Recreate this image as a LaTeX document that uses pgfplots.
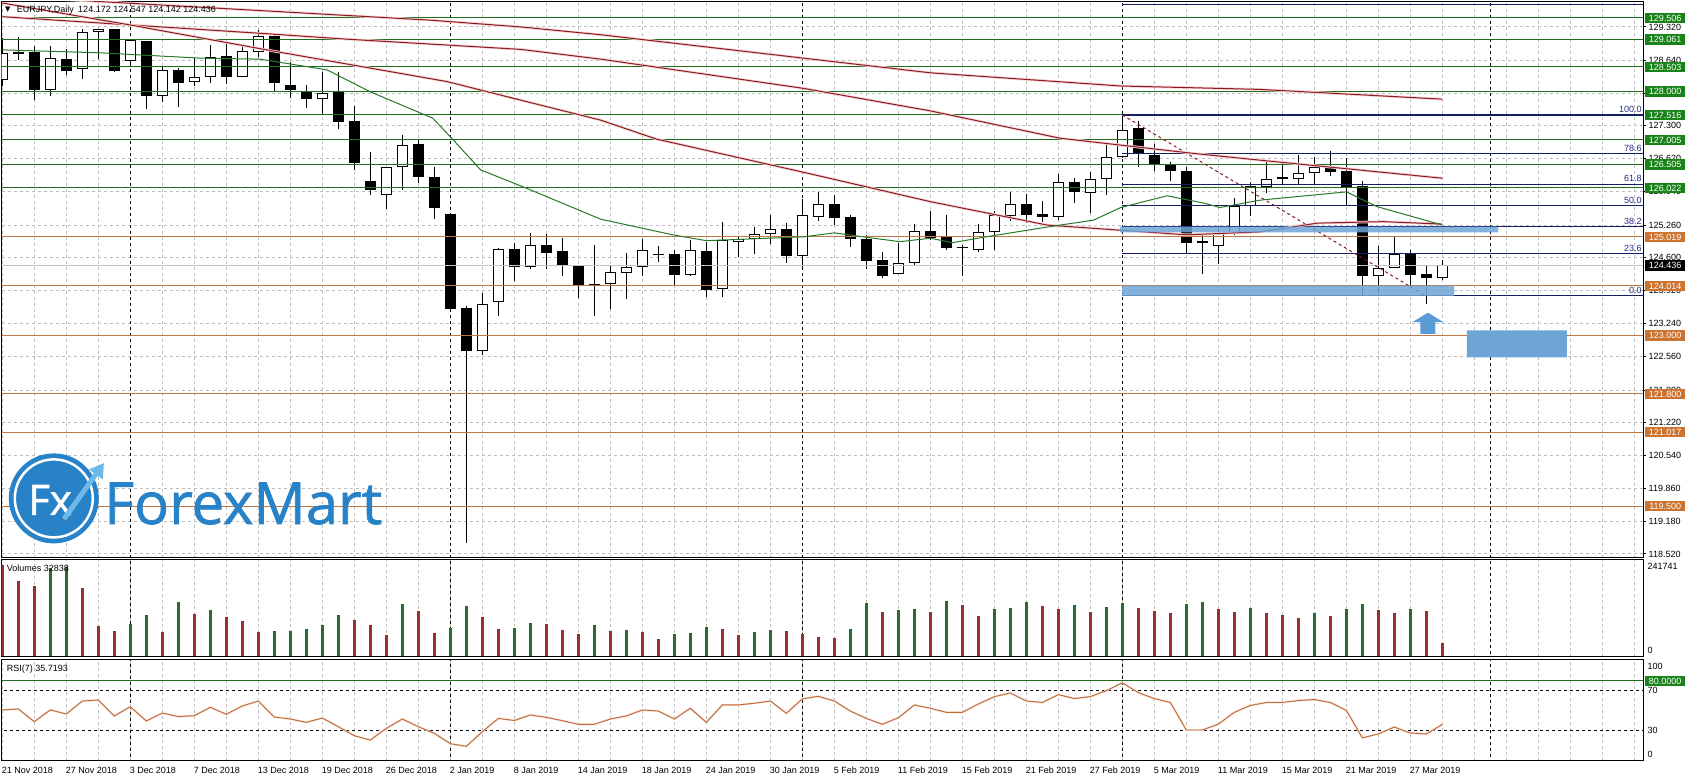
\documentclass[border=0pt]{standalone}
\usepackage{fontspec}
\setmainfont{Liberation Sans}
\newfontfamily\dejavu{DejaVu Sans}
\newfontfamily\logofont[FakeBold=1.2]{Open Sans}
\usepackage{pgfplots}
\usepackage{pgfplotstable}
\pgfplotsset{compat=1.18}
\usetikzlibrary{arrows.meta}

\definecolor{lvlgreen}{RGB}{30,110,30}
\definecolor{boxgreen}{RGB}{25,130,25}
\definecolor{lvlorange}{RGB}{190,120,70}
\definecolor{boxorange}{RGB}{205,115,50}
\definecolor{gridgray}{RGB}{190,190,190}
\definecolor{fibblue}{RGB}{20,30,100}
\definecolor{fibtext}{RGB}{40,40,140}
\definecolor{maRed}{RGB}{135,28,35}
\definecolor{maGlow}{RGB}{250,208,208}
\definecolor{maGreen}{RGB}{40,120,40}
\definecolor{bandblue}{RGB}{110,165,215}
\definecolor{arrowblue}{RGB}{90,155,213}
\definecolor{volgreen}{RGB}{40,110,40}
\definecolor{volred}{RGB}{155,45,45}
\definecolor{rsiline}{RGB}{195,105,55}
\definecolor{logoblue}{RGB}{40,130,200}
\definecolor{logolight}{RGB}{110,185,235}
\definecolor{bidgray}{RGB}{195,195,195}

\pgfplotstableread{
i O H L C
0 128.23 129.09 128.10 128.78
1 128.77 129.12 128.64 128.81
2 128.80 128.93 127.82 128.03
3 128.03 128.93 127.91 128.68
4 128.66 128.86 128.34 128.42
5 128.45 129.27 128.25 129.21
6 129.22 129.28 128.66 129.27
7 129.27 129.28 128.40 128.42
8 128.63 129.05 128.54 129.05
9 129.03 129.04 127.63 127.91
10 127.91 128.52 127.79 128.44
11 128.44 128.47 127.67 128.18
12 128.19 128.68 128.10 128.29
13 128.30 128.95 128.18 128.71
14 128.72 128.98 128.16 128.30
15 128.30 128.90 128.29 128.83
16 128.81 129.26 128.70 129.13
17 129.13 129.15 127.99 128.18
18 128.14 128.61 127.86 128.03
19 128.01 128.13 127.65 127.84
20 127.84 128.39 127.54 127.97
21 127.98 128.39 127.22 127.38
22 127.39 127.69 126.38 126.53
23 126.16 126.75 125.88 125.97
24 125.87 126.44 125.59 126.44
25 126.44 127.11 125.98 126.91
26 126.93 127.02 126.13 126.25
27 126.24 126.44 125.38 125.60
28 125.49 125.49 123.52 123.55
29 123.56 123.60 118.75 122.67
30 122.67 123.86 122.60 123.64
31 123.69 124.79 123.40 124.76
32 124.76 124.89 124.12 124.41
33 124.41 125.09 124.37 124.85
34 124.85 125.07 124.35 124.69
35 124.73 124.99 124.22 124.43
36 124.43 124.45 123.76 124.03
37 124.03 124.85 123.40 124.06
38 124.05 124.42 123.53 124.29
39 124.27 124.68 123.74 124.41
40 124.41 124.97 124.22 124.75
41 124.64 124.83 124.51 124.67
42 124.66 124.75 124.03 124.24
43 124.24 124.95 124.22 124.75
44 124.73 124.92 123.78 123.93
45 123.94 125.33 123.79 124.95
46 124.91 125.04 124.60 124.97
47 124.97 125.23 124.67 125.07
48 125.07 125.47 124.87 125.17
49 125.18 125.31 124.49 124.63
50 124.63 125.79 124.37 125.46
51 125.43 125.94 125.35 125.69
52 125.69 125.88 125.26 125.41
53 125.42 125.47 124.82 124.97
54 124.97 125.06 124.35 124.53
55 124.54 124.71 124.17 124.22
56 124.25 124.90 124.25 124.48
57 124.48 125.28 124.42 125.14
58 125.14 125.55 124.95 125.00
59 125.01 125.47 124.74 124.80
60 124.81 124.85 124.22 124.78
61 124.74 125.28 124.70 125.11
62 125.11 125.55 124.75 125.46
63 125.45 125.94 125.34 125.69
64 125.69 125.90 125.31 125.47
65 125.49 125.75 125.33 125.42
66 125.43 126.31 125.36 126.14
67 126.14 126.22 125.72 125.94
68 125.92 126.34 125.51 126.20
69 126.20 126.91 125.88 126.65
70 126.65 127.516 126.64 127.20
71 127.24 127.39 126.44 126.71
72 126.70 126.93 126.36 126.51
73 126.51 126.56 126.17 126.36
74 126.37 126.44 124.68 124.90
75 124.93 125.06 124.26 124.90
76 124.84 125.19 124.46 125.09
77 125.09 125.81 125.06 125.66
78 125.66 126.15 125.45 126.06
79 126.05 126.57 125.91 126.20
80 126.20 126.56 126.10 126.24
81 126.20 126.70 126.10 126.32
82 126.32 126.66 126.10 126.44
83 126.44 126.78 126.27 126.35
84 126.37 126.63 125.67 126.05
85 126.06 126.17 123.81 124.22
86 124.22 124.83 123.86 124.39
87 124.39 125.02 124.39 124.66
88 124.67 124.75 124.00 124.24
89 124.25 124.44 123.64 124.18
90 124.172 124.547 124.142 124.436
}\candles

\pgfplotstableread{
i v g
0 229 0
1 189 0
2 176 0
3 221 1
4 225 1
5 172 0
6 76 0
7 63 0
8 81 1
9 103 1
10 61 0
11 137 1
12 106 0
13 116 1
14 98 0
15 88 0
16 61 0
17 62 1
18 63 1
19 69 1
20 78 1
21 103 1
22 91 0
23 78 0
24 53 0
25 131 1
26 113 0
27 58 0
28 71 1
29 126 1
30 98 0
31 68 0
32 71 1
33 82 1
34 80 0
35 65 0
36 55 0
37 78 1
38 63 0
39 65 1
40 60 0
41 43 0
42 55 1
43 58 1
44 73 1
45 68 0
46 53 0
47 60 1
48 65 1
49 63 0
50 55 0
51 48 0
52 45 0
53 68 1
54 133 1
55 111 0
56 116 1
57 118 1
58 111 0
59 138 1
60 128 0
61 101 0
62 118 1
63 121 1
64 136 1
65 125 0
66 118 0
67 128 1
68 112 0
69 124 1
70 134 1
71 120 0
72 114 0
73 108 0
74 130 1
75 135 1
76 118 0
77 112 0
78 122 1
79 108 0
80 103 0
81 96 0
82 108 1
83 100 0
84 118 1
85 132 1
86 117 0
87 108 0
88 118 1
89 114 0
90 32.838 0
}\vol

\pgfplotstableread{
i r
0 50.4
1 51.4
2 38.5
3 50.4
4 46.3
5 59.5
6 60.5
7 44.3
8 53.7
9 39.2
10 47.3
11 43.6
12 44.6
13 53.1
14 46.0
15 54.4
16 59.5
17 43.2
18 41.2
19 37.8
20 42.2
21 33.4
22 24.2
23 19.8
24 31.7
25 41.2
26 33.4
27 26.6
28 16.1
29 13.4
30 28.3
31 41.8
32 39.7
33 45.3
34 42.9
35 39.5
36 35.8
37 35.8
38 41.2
39 44.3
40 50.4
41 49.3
42 41.2
43 52.1
44 37.8
45 55.5
46 55.5
47 57.2
48 59.5
49 47.0
50 61.6
51 64.3
52 59.5
53 49.3
54 41.8
55 35.8
56 42.5
57 55.5
58 52.1
59 48.0
60 48.0
61 56.5
62 63.9
63 67.7
64 59.5
65 58
66 66
67 62
68 64
69 70
70 78
71 68
72 62
73 58
74 30
75 30
76 36
77 48
78 55
79 58
80 58
81 60
82 61
83 58
84 50
85 22
86 26
87 33
88 27
89 26
90 35.72
}\rsi

\pgfplotsset{
  panel/.style={
    scale only axis, width=1641.5pt, xmin=-0.05, xmax=102.54,
    anchor=south west,
    axis line style={black, line width=1pt},
    clip mode=individual,
    xtick={0,2,...,102}, xticklabels={}, xmajorgrids,
    xtick style={draw=none},
    major grid style={gridgray, dash pattern=on 3pt off 3pt, line width=1pt},
    /pgf/number format/assume math mode=true,
    ticklabel style={font=\fontsize{9}{10}\selectfont},
  },
  sep/.style={black, dash pattern=on 3pt off 3pt, line width=1pt, forget plot},
}
\tikzset{
  lbl/.style={anchor=west, xshift=2pt, text=white, inner xsep=0pt, inner ysep=0pt,
    minimum width=40pt, minimum height=10.5pt, text height=6.5pt, text depth=0pt,
    font=\fontsize{9}{10}\selectfont},
  fiblbl/.style={anchor=south east, inner sep=0pt, text=fibtext, yshift=2pt,
    font=\fontsize{9}{10}\selectfont},
}

\begin{document}
\begin{tikzpicture}[x=1pt,y=1pt]
\useasboundingbox (0,0) rectangle (1689,781);
\fill[white] (0,0) rectangle (1689,781);

% ================= MAIN PANEL =================
\begin{axis}[panel, at={(1.5pt,223.3pt)}, height=556pt,
  ymin=118.4442, ymax=129.8376,
  ytick={118.52,119.18,119.86,120.54,121.22,121.88,122.56,123.24,123.92,124.6,125.26,125.94,126.62,127.3,127.96,128.64,129.32},
  ymajorgrids, ytick pos=right, yticklabel pos=right, tick align=outside,
  ytick style={draw=black, line width=1pt}, major tick length=3pt,
  yticklabel={\pgfmathprintnumber[fixed,fixed zerofill,precision=3]{\tick}},
  yticklabel style={anchor=west, inner sep=0pt, xshift=2.5pt},
]
% period separators
\pgfplotsinvokeforeach{8,28,50,70,93}{\addplot[sep] coordinates {(#1,100) (#1,140)};}

% candles: wicks
\addplot[draw=none, mark=none, forget plot,
  error bars/.cd, y dir=plus, y explicit, error mark=none,
  error bar style={draw=black, line width=1pt}]
  table[x=i, y=L, y error plus expr=\thisrow{H}-\thisrow{L}] {\candles};
% candle bodies (black / outline)
\addplot[draw=none, mark=none, forget plot,
  error bars/.cd, y dir=plus, y explicit, error mark=none,
  error bar style={draw=black, line width=10.7pt, line cap=butt}]
  table[x=i, y expr={min(\thisrow{O},\thisrow{C})},
        y error plus expr={max(abs(\thisrow{C}-\thisrow{O}),0.025)}] {\candles};
% white interior for rising candles
\addplot[draw=none, mark=none, forget plot,
  error bars/.cd, y dir=plus, y explicit, error mark=none,
  error bar style={draw=white, line width=8.7pt, line cap=butt}]
  table[x=i, y expr={min(\thisrow{O},\thisrow{C})+0.0205},
        y error plus expr={ifthenelse(\thisrow{C}>\thisrow{O}, max(\thisrow{C}-\thisrow{O}-0.041,0), 0)}] {\candles};

% horizontal levels
\pgfplotsinvokeforeach{129.506,129.061,128.503,128.000,127.516,127.005,126.505,126.022}{
  \addplot[lvlgreen, line width=1pt, forget plot] coordinates {(-1,#1) (110,#1)};}
\pgfplotsinvokeforeach{125.019,124.014,123.000,121.800,121.017,119.500}{
  \addplot[lvlorange, line width=1pt, forget plot] coordinates {(-1,#1) (110,#1)};}
\addplot[bidgray, line width=1pt, forget plot] coordinates {(-1,124.436) (110,124.436)};

% fibonacci
\addplot[fibblue, line width=1pt, forget plot] coordinates {(70,129.79) (110,129.79)};
\addplot[fibblue, line width=2pt, forget plot] coordinates {(70,127.516) (110,127.516)};
\pgfplotsinvokeforeach{126.72,126.10,125.66,125.23,124.68}{
  \addplot[fibblue, line width=1pt, forget plot] coordinates {(70,#1) (110,#1)};}
\addplot[fibblue, line width=1pt, forget plot] coordinates {(70,123.81) (110,123.81)};
\addplot[maRed, dash pattern=on 3pt off 3pt, line width=1pt, forget plot] coordinates {(70,127.516) (88.97,123.81)};

% moving averages
\addplot[maGlow, line width=2.6pt, forget plot] coordinates {(0,129.95) (6.1,129.84) (26.7,129.46) (32.4,129.32) (37.4,129.16) (58.0,128.38) (69.9,128.11) (78.6,128.04) (90,127.84)};
\addplot[maRed, line width=1pt, forget plot] coordinates {(0,129.95) (6.1,129.84) (26.7,129.46) (32.4,129.32) (37.4,129.16) (58.0,128.38) (69.9,128.11) (78.6,128.04) (90,127.84)};
\addplot[maGlow, line width=2.6pt, forget plot] coordinates {(0,129.53) (16.1,129.19) (21.5,129.07) (32.4,128.86) (37.4,128.66) (50.1,128.06) (58.0,127.60) (66.1,127.04) (74.4,126.73) (78.6,126.59) (90,126.22)};
\addplot[maRed, line width=1pt, forget plot] coordinates {(0,129.53) (16.1,129.19) (21.5,129.07) (32.4,128.86) (37.4,128.66) (50.1,128.06) (58.0,127.60) (66.1,127.04) (74.4,126.73) (78.6,126.59) (90,126.22)};
\addplot[maGlow, line width=2.6pt, forget plot] coordinates {(0,129.81) (8,129.36) (17.2,128.81) (27.8,128.20) (32.4,127.82) (37.4,127.41) (40.9,127.02) (50.1,126.34) (58,125.74) (65.3,125.26) (74.0,125.06) (78.6,125.12) (82.2,125.30) (86.3,125.33) (90,125.28)};
\addplot[maRed, line width=1pt, forget plot] coordinates {(0,129.81) (8,129.36) (17.2,128.81) (27.8,128.20) (32.4,127.82) (37.4,127.41) (40.9,127.02) (50.1,126.34) (58,125.74) (65.3,125.26) (74.0,125.06) (78.6,125.12) (82.2,125.30) (86.3,125.33) (90,125.28)};
\addplot[maGreen, line width=1pt, forget plot] coordinates {(0,128.85) (6.1,128.79) (12.4,128.68) (16.1,128.66) (20.3,128.44) (23,127.99) (26.9,127.45) (27.8,127.14) (29.9,126.39) (32.8,126.01) (37.4,125.38) (41.9,125.06) (44,124.94) (50.1,125.02) (52,125.10) (54,125.01) (56.1,124.92) (58,124.99) (59.4,124.90) (61.5,125.02) (65.7,125.24) (68.2,125.36) (69.9,125.62) (72.8,125.86) (75.1,125.71) (76.1,125.62) (78.6,125.77) (84,125.94) (85.9,125.64) (90,125.26)};

% blue zones
\addplot[fill=bandblue, draw=none, fill opacity=0.85, forget plot] coordinates {(69.86,125.11) (93.48,125.11) (93.48,125.23) (69.86,125.23) (69.86,125.11)};
\addplot[fill=bandblue, draw=none, fill opacity=0.85, forget plot] coordinates {(69.98,123.81) (90.73,123.81) (90.73,124.02) (69.98,124.02) (69.98,123.81)};
\addplot[fill=bandblue, draw=none, forget plot] coordinates {(91.53,122.55) (97.78,122.55) (97.78,123.10) (91.53,123.10) (91.53,122.55)};
% arrow
\addplot[fill=arrowblue, draw=none, forget plot] coordinates {(88.63,123.03) (89.57,123.03) (89.57,123.27) (90.07,123.27) (89.10,123.465) (88.13,123.27) (88.63,123.27) (88.63,123.03)};

% fib labels
\node[fiblbl] at (axis cs:102.46,127.516) {100.0};
\node[fiblbl] at (axis cs:102.46,126.72) {78.6};
\node[fiblbl] at (axis cs:102.46,126.10) {61.8};
\node[fiblbl] at (axis cs:102.46,125.66) {50.0};
\node[fiblbl] at (axis cs:102.46,125.23) {38.2};
\node[fiblbl] at (axis cs:102.46,124.68) {23.6};
\node[fiblbl] at (axis cs:102.46,123.81) {0.0};

% right price boxes
\pgfplotsinvokeforeach{129.506,129.061,128.503,128.000,127.516,127.005,126.505,126.022}{
  \node[lbl, fill=boxgreen] at (axis cs:102.54,#1) {#1};}
\pgfplotsinvokeforeach{125.019,124.014,123.000,121.800,121.017,119.500}{
  \node[lbl, fill=boxorange] at (axis cs:102.54,#1) {#1};}
\node[lbl, fill=black] at (axis cs:102.54,124.436) {124.436};
\end{axis}

% ================= VOLUME PANEL =================
\begin{axis}[panel, at={(1.5pt,124.3pt)}, height=96.7pt,
  ymin=-1.76, ymax=241.74, ytick=\empty]
\pgfplotsinvokeforeach{8,28,50,70,93}{\addplot[sep] coordinates {(#1,-10) (#1,300)};}
\addplot[ycomb, draw=volgreen, line width=3pt, mark=none, forget plot]
  table[x=i, y expr={ifthenelse(\thisrow{g}==1,\thisrow{v},0)}] {\vol};
\addplot[ycomb, draw=volred, line width=3pt, mark=none, forget plot]
  table[x=i, y expr={ifthenelse(\thisrow{g}==0,\thisrow{v},0)}] {\vol};
\end{axis}

% ================= RSI PANEL =================
\begin{axis}[panel, at={(1.5pt,20.3pt)}, height=101.4pt,
  ymin=-1.21, ymax=101.94, ytick=\empty,
  extra x ticks={0,4,...,88},
  extra x tick labels={21 Nov 2018,27 Nov 2018,3 Dec 2018,7 Dec 2018,13 Dec 2018,19 Dec 2018,26 Dec 2018,2 Jan 2019,8 Jan 2019,14 Jan 2019,18 Jan 2019,24 Jan 2019,30 Jan 2019,5 Feb 2019,11 Feb 2019,15 Feb 2019,21 Feb 2019,27 Feb 2019,5 Mar 2019,11 Mar 2019,15 Mar 2019,21 Mar 2019,27 Mar 2019},
  extra x tick style={grid=none, xticklabel style={anchor=north west, inner sep=0pt, yshift=-6.5pt, xshift=-0.6pt}},
]
\pgfplotsinvokeforeach{8,28,50,70,93}{\addplot[sep] coordinates {(#1,-10) (#1,110)};}
\addplot[black, dash pattern=on 3pt off 3pt, line width=1pt, forget plot] coordinates {(-1,70) (110,70)};
\addplot[black, dash pattern=on 3pt off 3pt, line width=1pt, forget plot] coordinates {(-1,30) (110,30)};
\addplot[lvlgreen, line width=1pt, forget plot] coordinates {(-1,80) (110,80)};
\addplot[rsiline!22, line width=2pt, forget plot] table[x=i, y=r] {\rsi};
\addplot[rsiline, line width=0.9pt, forget plot] table[x=i, y=r] {\rsi};
\node[lbl, fill=boxgreen] at (axis cs:102.54,80) {80.0000};
\end{axis}

% ================= TEXTS =================
\node[anchor=west, inner sep=0pt] at (5,771) {\dejavu\fontsize{7}{7}\selectfont ▼};
\node[anchor=west, inner sep=0pt, font=\fontsize{9}{10}\selectfont] at (16.7,771) {EURJPY,Daily\hspace{4.5pt}124.172 124.547 124.142 124.436};
\node[anchor=west, inner sep=0pt, font=\fontsize{9}{10}\selectfont] at (6.7,212.7) {Volumes 32838};
\node[anchor=west, inner sep=0pt, font=\fontsize{9}{10}\selectfont] at (6.7,112.3) {RSI(7) 35.7193};
% right labels volume / rsi
\node[anchor=west, inner sep=0pt, font=\fontsize{9}{10}\selectfont] at (1647.3,215) {241741};
\node[anchor=west, inner sep=0pt, font=\fontsize{9}{10}\selectfont] at (1647.3,131) {0};
\node[anchor=west, inner sep=0pt, font=\fontsize{9}{10}\selectfont] at (1647.3,115) {100};
\node[anchor=west, inner sep=0pt, font=\fontsize{9}{10}\selectfont] at (1647.3,91) {70};
\node[anchor=west, inner sep=0pt, font=\fontsize{9}{10}\selectfont] at (1647.3,51) {30};
\node[anchor=west, inner sep=0pt, font=\fontsize{9}{10}\selectfont] at (1647.3,27) {0};

% ================= LOGO =================
\fill[logoblue] (53.8,282.6) circle (45);
\draw[white, line width=2.5pt] (53.8,282.6) circle (39);
\node[white, inner sep=0pt, font=\logofont\fontsize{42}{42}\selectfont] at (50,281) {Fx};
\draw[logolight, line width=5pt, -{Triangle[length=14pt,width=16pt]}] (64,262) -- (104,318);
\node[anchor=base west, inner sep=0pt, text=logoblue, font=\logofont\fontsize{58}{58}\selectfont] at (104,257) {ForexMart};
\end{tikzpicture}
\end{document}
